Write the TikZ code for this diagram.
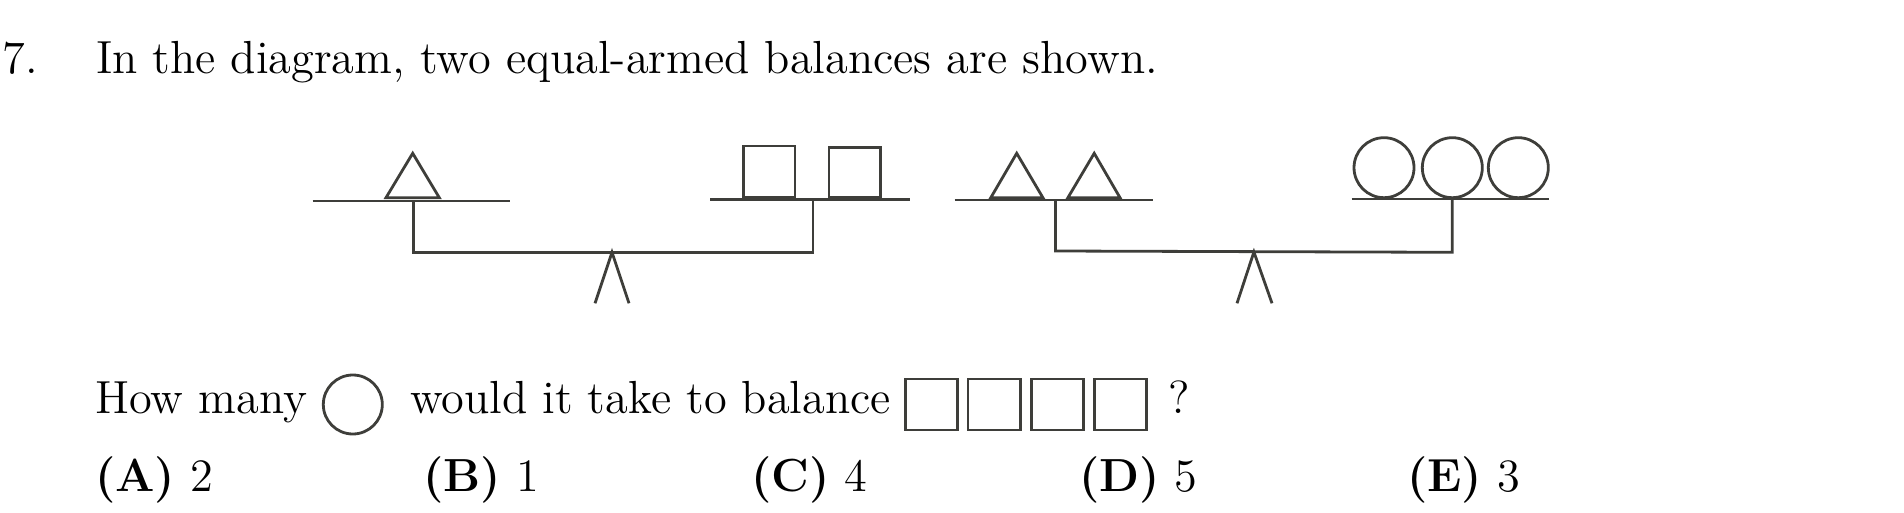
\documentclass[tikz,border=0pt]{standalone}
\usepackage{fontspec}
\setmainfont{Latin Modern Roman}
\definecolor{ink}{HTML}{3E3E3A}
\tikzset{
  shp/.style={draw=ink, line width=0.7pt, line join=miter},
  txt/.style={anchor=base west, inner sep=0pt, outer sep=0pt, font=\fontsize{11.6pt}{13.5pt}\selectfont}
}
\begin{document}
\begin{tikzpicture}[x=0.25pt,y=-0.25pt]
\useasboundingbox (0,0) rectangle (1904,513);
% heading
\node[txt] (num) at (2.7,73.3) {7.};
\node[txt] (title) at (96,73.3) {In the diagram, two equal-armed balances are shown.};

% left balance
\draw[shp] (312.7,201) -- (510,201);
\draw[shp] (412.7,153.3) -- (439.3,197.7) -- (386,197.7) -- cycle;
\draw[shp] (710.4,199.3) -- (909.6,199.3);
\draw[shp] (743.75,146) rectangle (795,197.7);
\draw[shp] (829,147.3) rectangle (880.4,197.7);
\draw[shp] (413.3,201) -- (413.3,252.3) -- (813,252.3) -- (813,199.3);
\draw[shp] (595,303.3) -- (612,252.3) -- (629,303.3);

% right balance
\draw[shp] (954.6,200) -- (1153.3,200);
\draw[shp] (1016.7,153.3) -- (1042.9,197.7) -- (990.8,197.7) -- cycle;
\draw[shp] (1094.2,153.3) -- (1120,197.7) -- (1067.9,197.7) -- cycle;
\draw[shp] (1055.4,200) -- (1055.4,251) -- (1452.3,252.3) -- (1452.3,199);
\draw[shp] (1351.7,199) -- (1549,199);
\draw[shp] (1384,167.7) circle[radius=30];
\draw[shp] (1452.3,167.7) circle[radius=30];
\begin{scope}
  \clip (1480,120) rectangle (1549.5,215);
  \draw[shp] (1518.3,167.7) circle[radius=30];
\end{scope}
\draw[shp] (1237,303.3) -- (1253.9,252) -- (1272,303.3);

% question
\node[txt] (how) at (95,413.3) {How many};
\draw[shp] (352.8,404.5) circle[radius=29.5];
\node[txt] (would) at (410,413.3) {would it take to balance};
\draw[shp] (905.4,379) rectangle (957.1,430);
\draw[shp] (968,379) rectangle (1020.8,430);
\draw[shp] (1031.3,379) rectangle (1083.8,430);
\draw[shp] (1094.6,379) rectangle (1146.7,430);
\node[txt] (qm) at (1168.8,413.3) {?};

% options
\node[txt] (optA) at (95,491.7) {\textbf{(A)} 2};
\node[txt] (optB) at (423.3,491.7) {\textbf{(B)} 1};
\node[txt] (optC) at (751,491.7) {\textbf{(C)} 4};
\node[txt] (optD) at (1079,491.7) {\textbf{(D)} 5};
\node[txt] (optE) at (1407,491.7) {\textbf{(E)} 3};
\end{tikzpicture}
\end{document}
